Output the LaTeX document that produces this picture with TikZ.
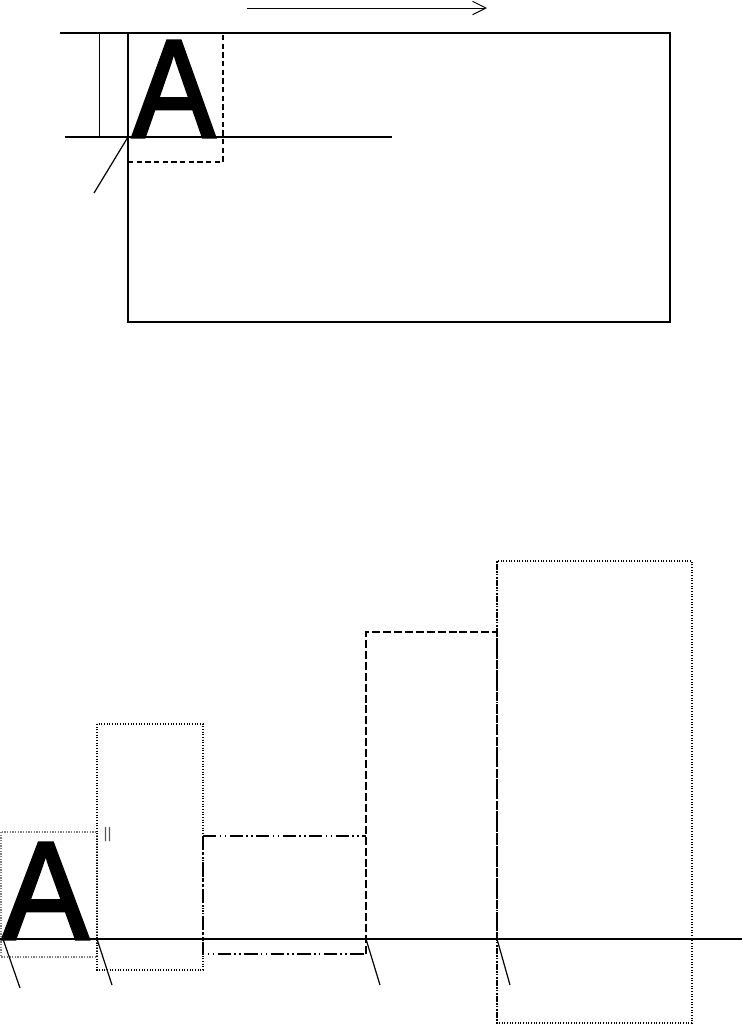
\documentclass[tikz,border=0pt]{standalone}
\usepackage{fontspec}
\setmainfont{Liberation Sans}
\newfontfamily\Afont[FakeBold=2.2]{Liberation Sans}
\usetikzlibrary{arrows.meta}
\tikzset{
  main/.style={line width=1.1pt, black},
  thin/.style={line width=0.7pt, black},
  tick/.style={line width=0.9pt, black},
  dashbox/.style={line width=1.5pt, dash pattern=on 6pt off 2.2pt},
  ddbox/.style={line width=1.4pt, dash pattern=on 10pt off 2.5pt on 1.2pt off 2.5pt on 1.2pt off 2.5pt},
  ddthin/.style={line width=0.8pt, dash pattern=on 10pt off 2.5pt on 1.2pt off 2.5pt on 1.2pt off 2.5pt},
  dotbox/.style={line width=0.8pt, dash pattern=on 0.8pt off 1.2pt},
  dotthick/.style={line width=1.5pt, dash pattern=on 1.2pt off 1.2pt},
  graydot/.style={line width=0.8pt, gray, dash pattern=on 1pt off 1pt},
  bigA/.style={inner sep=0pt, anchor=base west, font=\Afont\fontsize{104.7}{105}\selectfont},
}
\begin{document}
\begin{tikzpicture}[x=0.75pt, y=-0.75pt]
\useasboundingbox (0,0) rectangle (742,1025);
% ---------- top part ----------
\coordinate (arrS) at (247,8);
\coordinate (arrE) at (487,8);
\draw[line width=0.7pt, -{Straight Barb[length=10pt,width=10pt,line width=0.75pt]}] (arrS) -- (arrE);
\draw[main] (128,33) rectangle (670,322);
\draw[main] (60,33) -- (128,33);
\draw[thin] (99,33) -- (99,137);
\draw[main] (65,137) -- (392,137);
\node[bigA, xscale=0.89] (topA) at (132,137) {A};
\draw[line width=0.9pt, dash pattern=on 4pt off 2.5pt] (128,162) -- (223,162) -- (223,33);
\coordinate (topO) at (128,137);
\coordinate (topT) at (94,193);
\draw[tick] (topO) -- (topT);
% ---------- bottom part ----------
\draw[graydot] (1,832) rectangle (97,957);
\draw[dotbox] (97,724) rectangle (203,970);
\draw[dotbox] (497,561) rectangle (692,1023);
\draw[dotthick] (497,561) -- (497,1023);
\draw[ddthin] (203,836) -- (366,836);
\draw[ddbox] (203,836) -- (203,954) -- (366,954);
\draw[dashbox] (366,954) -- (366,632) -- (497,632) -- (497,939);
\draw[dashbox] (366,939) -- (497,939);
\draw[main] (0,939) -- (742,939);
\node[bigA, xscale=0.93] (botA) at (2,939) {A};
\node[inner sep=0pt, text=black!65, font=\fontsize{11.5}{11.5}\selectfont] (bars) at (107.5,834.5) {||};
\coordinate (b1) at (3,939);   \coordinate (t1) at (20,988);
\coordinate (b2) at (97,939);  \coordinate (t2) at (112,985);
\coordinate (b3) at (366,939); \coordinate (t3) at (380,985);
\coordinate (b4) at (497,939); \coordinate (t4) at (510,985);
\draw[tick] (b1) -- (t1);
\draw[tick] (b2) -- (t2);
\draw[tick] (b3) -- (t3);
\draw[tick] (b4) -- (t4);
\end{tikzpicture}
\end{document}
